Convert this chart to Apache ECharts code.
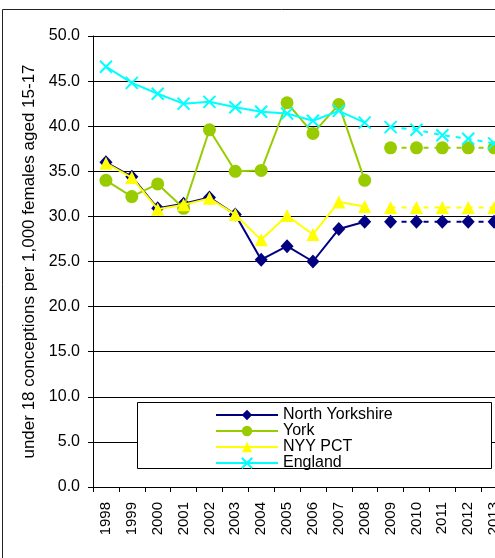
<!DOCTYPE html>
<html><head><meta charset="utf-8">
<script src="https://cdn.jsdelivr.net/npm/echarts@6/dist/echarts.min.js"></script>
<style>html,body{margin:0;padding:0;overflow:hidden;background:#fff;width:495px;height:558px}#c{width:560px;height:558px;position:absolute;left:0;top:0}</style>
</head><body><div id="c"></div>
<script>
const years = ['1998','1999','2000','2001','2002','2003','2004','2005','2006','2007','2008','2009','2010','2011','2012','2013'];
const northYorkshire = [36.0, 34.4, 30.9, 31.4, 32.1, 30.2, 25.2, 26.7, 25.0, 28.6, 29.4];
const northYorkshireProj = [29.4, 29.4, 29.4, 29.4, 29.4];
const york = [34.0, 32.2, 33.6, 30.9, 39.6, 35.0, 35.1, 42.6, 39.2, 42.4, 34.0];
const yorkProj = [37.6, 37.6, 37.6, 37.6, 37.6];
const nyyPct = [35.9, 34.3, 30.8, 31.3, 32.0, 30.2, 27.4, 30.1, 28.0, 31.6, 31.1];
const nyyPctProj = [31.0, 31.0, 31.0, 31.0, 31.0];
const england = [46.6, 44.8, 43.6, 42.5, 42.7, 42.1, 41.6, 41.4, 40.6, 41.7, 40.4];
const englandProj = [39.9, 39.6, 39.0, 38.6, 38.1];
const yTicks = {min: 0, max: 50, interval: 5};
const seriesNames = ['North Yorkshire', 'York', 'NYY PCT', 'England'];
const yTitle = 'under 18 conceptions per 1,000 females aged 15-17';

const FONT = 'Liberation Sans, Arial, sans-serif';
function actual(vals){ return years.map((y,i)=> i < vals.length ? vals[i] : null); }
function proj(vals){ const off = years.length - vals.length; return years.map((y,i)=> i >= off ? vals[i-off] : null); }
const X_PATH = 'path://M0,0 L10,10 M10,0 L0,10';
const styles = [
  {color:'#000080', symbol:'diamond', size:[13,14]},
  {color:'#99CC00', symbol:'circle', size:13},
  {color:'#FFFF00', symbol:'triangle', size:13},
  {color:'#00FFFF', symbol:X_PATH, size:12, stroke:true}
];
const actualData = [northYorkshire, york, nyyPct, england];
const projData = [northYorkshireProj, yorkProj, nyyPctProj, englandProj];
function mk(i, data, dashed){
  const s = styles[i];
  return {
    name: seriesNames[i], type:'line', data: data, connectNulls:false,
    symbol: s.symbol, symbolSize: s.size, showAllSymbol:true,
    lineStyle:{color:s.color, width:2, type: dashed ? [5,6] : 'solid'},
    itemStyle: s.stroke ? {color:'rgba(0,0,0,0)', borderColor:s.color, borderWidth:2} : {color:s.color, borderWidth:0},
    emphasis:{disabled:true}, animation:false, z: 2+i
  };
}
const series = [];
for (let i=0;i<4;i++) series.push(mk(i, actual(actualData[i]), false));
for (let i=0;i<4;i++) series.push(mk(i, proj(projData[i]), true));

const chart = echarts.init(document.getElementById('c'), null, {renderer:'canvas'});
chart.setOption({
  animation:false,
  backgroundColor:'#fff',
  grid:{left:93, top:36, width:414, height:451, containLabel:false},
  graphic:[
    {type:'rect', shape:{x:2.5, y:9.5, width:800, height:800}, style:{fill:'none', stroke:'#222', lineWidth:1}, z:-10, silent:true},
    {type:'rect', shape:{x:137.5, y:402.5, width:354, height:66}, style:{fill:'#fff', stroke:'#000', lineWidth:1}, z:50, silent:true}
  ],
  legend:{
    data: seriesNames, orient:'vertical', left:215, top:407, padding:0,
    itemWidth:62, itemHeight:13, itemGap:0, z:60,
    textStyle:{fontFamily:FONT, fontSize:16, color:'#000', lineHeight:14},
    selectedMode:false
  },
  xAxis:{
    type:'category', data: years, boundaryGap:true,
    axisLine:{lineStyle:{color:'#000', width:1}},
    axisTick:{show:true, length:5, lineStyle:{color:'#000'}},
    axisLabel:{rotate:90, fontFamily:FONT, fontSize:15, color:'#000', margin:15, interval:0},
    splitLine:{show:false}
  },
  yAxis:{
    type:'value', min:yTicks.min, max:yTicks.max, interval:yTicks.interval,
    name: yTitle, nameLocation:'middle', nameGap:45, nameRotate:90,
    nameTextStyle:{fontFamily:FONT, fontSize:17, color:'#000'},
    axisLine:{show:true, lineStyle:{color:'#000', width:1}},
    axisTick:{show:true, length:5, lineStyle:{color:'#000'}},
    axisLabel:{fontFamily:FONT, fontSize:16, color:'#000', margin:13, formatter:v=>v.toFixed(1)},
    splitLine:{show:true, lineStyle:{color:'#000', width:1}}
  },
  series: series
});
</script></body></html>
